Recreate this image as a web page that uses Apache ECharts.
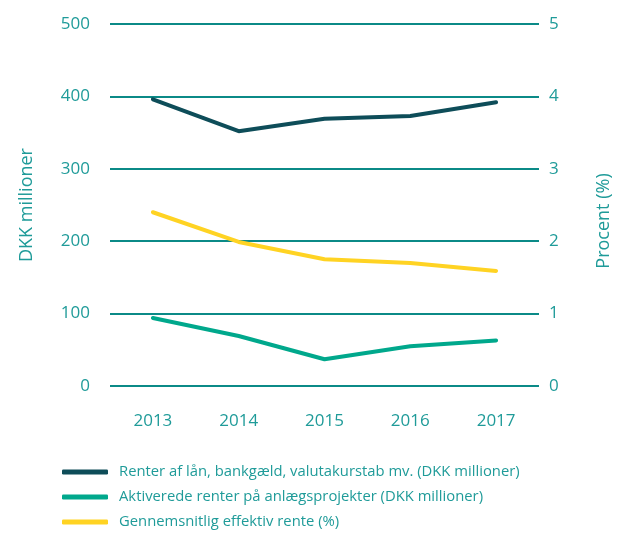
<!DOCTYPE html>
<html>
<head>
<meta charset="utf-8">
<script src="https://cdn.jsdelivr.net/npm/echarts@6/dist/echarts.min.js"></script>
<style>
  html, body { margin: 0; padding: 0; background: #fff; }
  #chart { width: 624px; height: 534px; }
</style>
</head>
<body>
<div id="chart"></div>
<script>
// Years on the category axis
var years = ['2013', '2014', '2015', '2016', '2017'];

// Interest on loans, bank debt, currency losses etc. (DKK millions)
var renterLaan = [396, 352, 369, 373, 392];
// Capitalised interest on construction projects (DKK millions)
var aktiveredeRenter = [94, 69, 37, 55, 63];
// Average effective interest rate (%)
var effektivRente = [2.40, 1.99, 1.75, 1.70, 1.59];

var seriesNames = [
  'Renter af lån, bankgæld, valutakurstab mv. (DKK millioner)',
  'Aktiverede renter på anlægsprojekter (DKK millioner)',
  'Gennemsnitlig effektiv rente (%)'
];

var teal = '#1f9b99';
var gridTeal = '#0b8a87';
var fontFamily = "'Open Sans', sans-serif";

var chart = echarts.init(document.getElementById('chart'), null, { renderer: 'canvas' });

chart.setOption({
  animation: false,
  textStyle: { fontFamily: fontFamily },
  grid: { left: 110, right: 85, top: 24, bottom: 148 },
  legend: {
    orient: 'vertical',
    left: 57,
    top: 457,
    height: 90,
    itemWidth: 46,
    itemHeight: 5,
    itemGap: 5,
    icon: 'roundRect',
    textStyle: { color: teal, fontSize: 14.8, lineHeight: 20, fontFamily: fontFamily, padding: [0, 0, 0, 6] },
    data: seriesNames
  },
  xAxis: {
    type: 'category',
    data: years,
    boundaryGap: true,
    axisLine: { show: false },
    axisTick: { show: false },
    axisLabel: { color: teal, fontSize: 17, margin: 27 }
  },
  yAxis: [
    {
      type: 'value',
      min: 0, max: 500, interval: 100,
      name: 'DKK millioner',
      nameLocation: 'middle',
      nameGap: 74,
      nameTextStyle: { color: teal, fontSize: 18 },
      axisLine: { show: false },
      axisTick: { show: false },
      axisLabel: { color: teal, fontSize: 17, margin: 20 },
      splitLine: { lineStyle: { color: gridTeal, width: 2 } }
    },
    {
      type: 'value',
      min: 0, max: 5, interval: 1,
      name: 'Procent (%)',
      nameLocation: 'middle',
      nameGap: 56,
      nameTextStyle: { color: teal, fontSize: 18, padding: [0, 32, 0, 0] },
      axisLine: { show: false },
      axisTick: { show: false },
      axisLabel: { color: teal, fontSize: 17, margin: 10 },
      splitLine: { show: false }
    }
  ],
  series: [
    {
      name: seriesNames[0],
      type: 'line',
      data: renterLaan,
      yAxisIndex: 0,
      symbol: 'none',
      lineStyle: { color: '#0e4d59', width: 4, cap: 'round' },
      itemStyle: { color: '#0e4d59' }
    },
    {
      name: seriesNames[1],
      type: 'line',
      data: aktiveredeRenter,
      yAxisIndex: 0,
      symbol: 'none',
      lineStyle: { color: '#00a88c', width: 4, cap: 'round' },
      itemStyle: { color: '#00a88c' }
    },
    {
      name: seriesNames[2],
      type: 'line',
      data: effektivRente,
      yAxisIndex: 1,
      symbol: 'none',
      lineStyle: { color: '#ffd323', width: 4, cap: 'round' },
      itemStyle: { color: '#ffd323' }
    }
  ]
});
</script>
</body>
</html>
